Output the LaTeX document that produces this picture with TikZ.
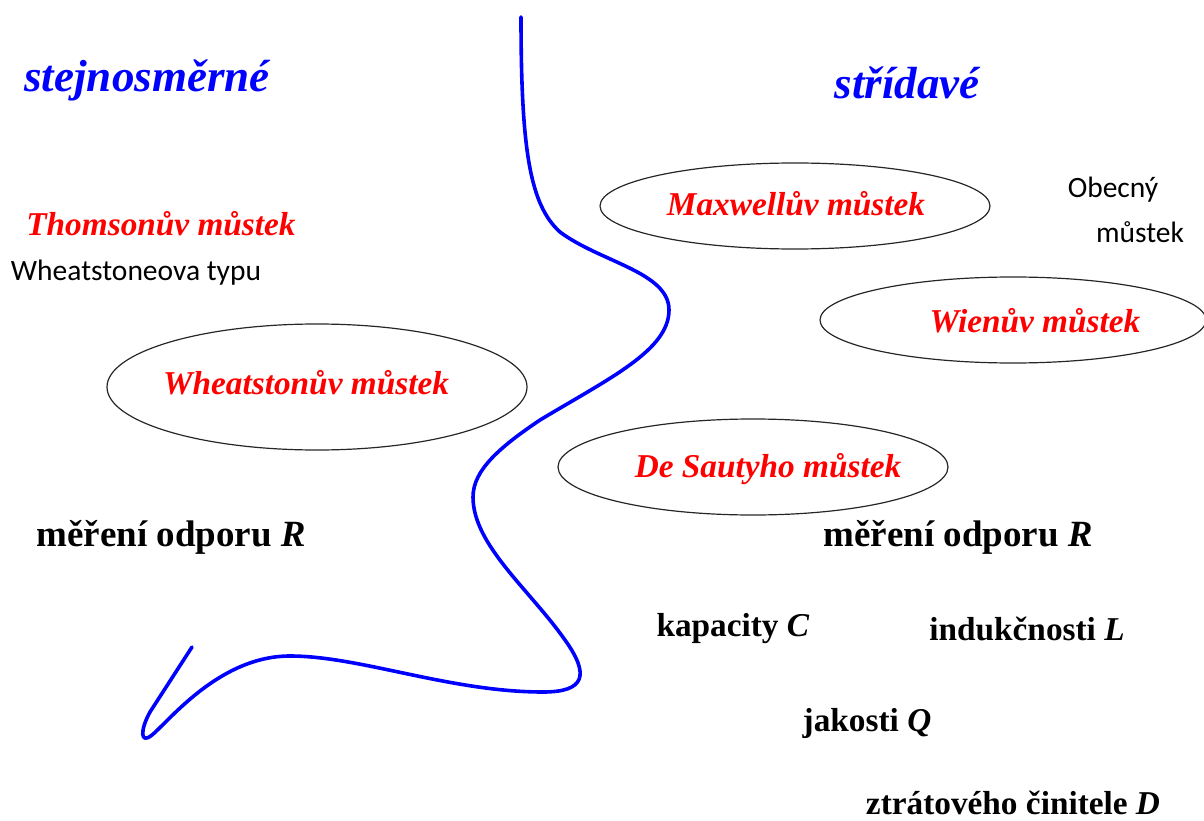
\documentclass[tikz,border=0pt]{standalone}
\usepackage{fontspec}
\setmainfont{Liberation Serif}
\newfontfamily\calib{Carlito}
\usetikzlibrary{shapes.geometric}
\tikzset{
  head/.style={text=blue, font=\fontsize{45}{52}\selectfont\bfseries\itshape, inner sep=0},
  bridge/.style={text=red, font=\fontsize{33.3}{40}\selectfont\bfseries\itshape, inner sep=0},
  oval/.style={draw=black!85, line width=1.2pt},
  meas/.style={text=black, font=\fontsize{37}{44}\selectfont\bfseries, inner sep=0},
  meass/.style={text=black, font=\fontsize{33.3}{40}\selectfont\bfseries, inner sep=0},
  note/.style={text=black, font=\calib\fontsize{29.5}{34}\selectfont, inner sep=0},
  divider/.style={draw=blue, line width=3.6pt, line cap=round, line join=round}
}
\begin{document}
\begin{tikzpicture}[x=1pt,y=-1pt]
\useasboundingbox (0,0) rectangle (1204,821);
% ellipses
\draw[oval] (795,206) ellipse [x radius=195, y radius=43];
\draw[oval] (1013,320) ellipse [x radius=193, y radius=43];
\draw[oval] (317,387) ellipse [x radius=210, y radius=63];
\draw[oval] (753,467) ellipse [x radius=195, y radius=48];
% headings
\node[head] (dc) at (147,80) {stejnosměrné};
\node[head] (ac) at (907,83) {střídavé};
% left side
\node[bridge] (thom) at (161,224) {Thomsonův můstek};
\node[note] (wtyp) at (136,273) {Wheatstoneova typu};
\node[bridge] (wheat) at (306,383) {Wheatstonův můstek};
\node[meas] (rl) at (171,537) {měření odporu \textit{R}};
% right side
\node[bridge] (maxw) at (796,204) {Maxwellův můstek};
\node[note] (obec1) at (1113,190) {Obecný};
\node[note] (obec2) at (1140,232) {můstek};
\node[bridge] (wien) at (1035,321) {Wienův můstek};
\node[bridge] (saut) at (768,469) {De Sautyho můstek};
\node[meas] (rr) at (958,537) {měření odporu \textit{R}};
\node[meass] (kap) at (733,629) {kapacity \textit{C}};
\node[meass] (ind) at (1027,629) {indukčnosti \textit{L}};
\node[meass] (jak) at (867,723) {jakosti \textit{Q}};
\node[meass] (ztr) at (1013,803) {ztrátového činitele \textit{D}};
% dividing curve
\draw[divider] (521,17) .. controls (521,150) and (530,205) .. (560,232)
  .. controls (600,262) and (669,272) .. (669,310)
  .. controls (669,350) and (610,378) .. (540,420)
  .. controls (500,447) and (473,470) .. (473,497)
  .. controls (473,545) and (530,590) .. (565,640)
  .. controls (590,675) and (585,692) .. (543,692)
  .. controls (450,692) and (360,656) .. (290,656)
  .. controls (220,656) and (170,720) .. (152,735)
  .. controls (140,745) and (140,730) .. (150,712)
  -- (192,647);
\end{tikzpicture}
\end{document}
